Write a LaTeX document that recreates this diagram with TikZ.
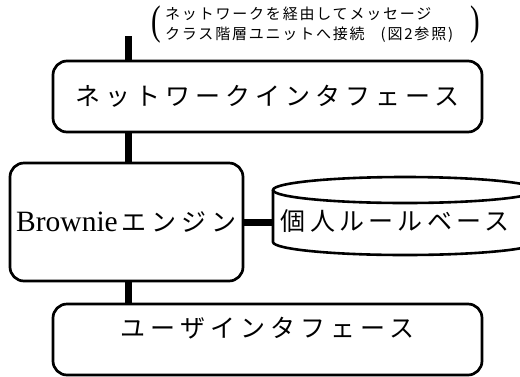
\documentclass[tikz,border=0pt]{standalone}
\usepackage{graphicx}
\usepackage{fontspec}
\setmainfont{Liberation Serif}
\newfontfamily\jpbig[LetterSpace=20]{Noto Sans CJK JP}
\newfontfamily\jpmid[LetterSpace=17]{Noto Sans CJK JP}
\newfontfamily\jpnote[LetterSpace=12]{Noto Sans CJK JP}
\begin{document}
\begin{tikzpicture}[x=1pt,y=-1pt,
  box/.style={draw, line width=2.7pt, rounded corners=14pt, inner sep=0pt},
  link/.style={line width=7pt},
  cyl/.style={line width=2.6pt},
  paren/.style={inner sep=0pt, font=\fontsize{18}{18}\selectfont},
  bigtext/.style={font=\jpbig\fontsize{25}{28}\selectfont},
  midtext/.style={font=\jpmid\fontsize{25}{28}\selectfont}]
\useasboundingbox (0,0) rectangle (520,376);
\clip (0,0) rectangle (520,376);

% network interface
\node[box, bigtext, minimum width=429pt, minimum height=71pt] (net) at (267.5,96.5) {ネットワークインタフェース};

% Brownie engine
\node[box, minimum width=233pt, minimum height=118pt] (brownie) at (126.5,222)
  {{\fontsize{29.5}{30}\selectfont Brownie}\hspace{4pt}{\jpbig\fontsize{25}{28}\selectfont エンジン}};

% user interface
\node[box, bigtext, minimum width=429pt, minimum height=71pt, text height=8pt, text depth=13pt] (user) at (267.5,339.5) {ユーザインタフェース};

% rule base cylinder
\draw[cyl, fill=white] (405,190) ellipse [x radius=132, y radius=13];
\draw[cyl] (273,190) -- (273,242) arc[start angle=180, end angle=0, x radius=132, y radius=13] -- (537,190);
\coordinate (dbw) at (273,222);
\node[midtext, inner sep=0pt] (db) at (395,221) {個人ルールベース};

% annotation
\node[anchor=west, inner sep=0pt, align=left, font=\jpnote\fontsize{15}{20}\selectfont] (note) at (165,25)
  {ネットワークを経由してメッセージ\\クラス階層ユニットへ接続\hspace{16pt}(図2参照)};
\node[paren] (lp) at (156,25) {\scalebox{1.6}[2.3]{(}};
\node[paren] (rp) at (475,25) {\scalebox{1.6}[2.3]{)}};

% connectors
\coordinate (top) at (128,36);
\draw[link] (top) -- (top |- net.north);
\draw[link] (top |- net.south) -- (top |- brownie.north);
\draw[link] (brownie.east) -- (dbw);
\draw[link] (top |- brownie.south) -- (top |- user.north);
\end{tikzpicture}
\end{document}
